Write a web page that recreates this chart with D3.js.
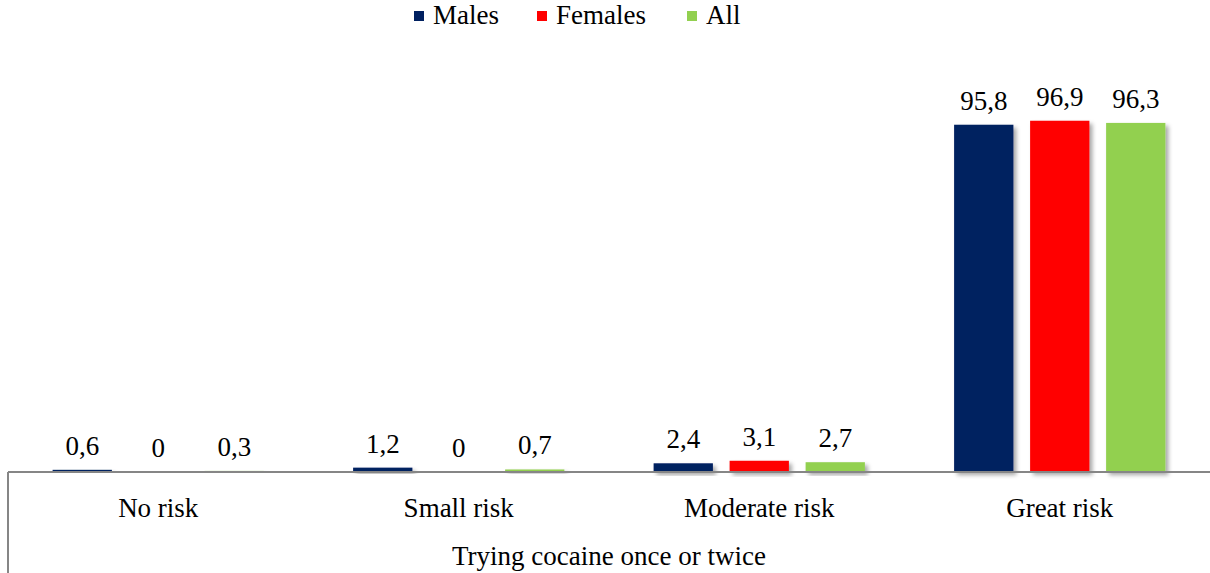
<!DOCTYPE html>
<html>
<head>
<meta charset="utf-8">
<script src="https://cdn.jsdelivr.net/npm/d3@7"></script>
<style>
  html, body { margin: 0; padding: 0; background: #fff; }
  svg { display: block; }
  text { font-family: "Liberation Serif", "DejaVu Serif", serif; fill: #000; }
</style>
</head>
<body>
<svg id="chart" width="1210" height="573"></svg>
<script>
// Perceived risk of trying cocaine once or twice (%)
const categories = ["No risk", "Small risk", "Moderate risk", "Great risk"];
const series = ["Males", "Females", "All"];
const males   = [0.6, 1.2, 2.4, 95.8];
const females = [0, 0, 3.1, 96.9];
const all     = [0.3, 0.7, 2.7, 96.3];
const axisTitle = "Trying cocaine once or twice";

const colors = { Males: "#002060", Females: "#FF0000", All: "#92D050" };
const valuesBySeries = { Males: males, Females: females, All: all };

const W = 1210, H = 573;
const left = 8, right = 1210, baseY = 472;
const FS = 27;

const svg = d3.select("#chart");

// soft drop shadow under each bar
const defs = svg.append("defs");
const f = defs.append("filter").attr("id", "shadow")
  .attr("x", "-20%").attr("y", "-20%").attr("width", "140%").attr("height", "160%");
f.append("feDropShadow").attr("dx", 3).attr("dy", 3).attr("stdDeviation", 2)
  .attr("flood-color", "#000").attr("flood-opacity", 0.35);

const x0 = d3.scaleBand().domain(categories).range([left, right]);
const groupW = 228;
const x1 = d3.scaleBand().domain(series).range([0, groupW])
  .paddingInner(0.22).paddingOuter(0.11);
const y = d3.scaleLinear().domain([0, 100]).range([baseY, baseY - 362.5]);

const fmt = v => String(v).replace(".", ",");

const data = [];
categories.forEach((c, i) => {
  series.forEach(s => data.push({ cat: c, s, v: valuesBySeries[s][i] }));
});
const bx = d => x0(d.cat) + x0.bandwidth() / 2 - groupW / 2 + x1(d.s);

// bars
svg.append("g").selectAll("rect").data(data).join("rect")
  .attr("x", bx)
  .attr("y", d => y(d.v))
  .attr("width", x1.bandwidth())
  .attr("height", d => baseY - y(d.v))
  .attr("fill", d => colors[d.s])
  .attr("filter", "url(#shadow)");

// value labels
svg.append("g").selectAll("text").data(data).join("text")
  .attr("x", d => bx(d) + x1.bandwidth() / 2)
  .attr("y", d => y(d.v) - 15)
  .attr("text-anchor", "middle")
  .attr("font-size", FS)
  .text(d => fmt(d.v));

// category axis
svg.append("line").attr("x1", left).attr("x2", right)
  .attr("y1", baseY).attr("y2", baseY)
  .attr("stroke", "#868686").attr("stroke-width", 2);
svg.append("line").attr("x1", left).attr("x2", left)
  .attr("y1", baseY).attr("y2", H)
  .attr("stroke", "#868686").attr("stroke-width", 2);

svg.append("g").selectAll("text").data(categories).join("text")
  .attr("x", d => x0(d) + x0.bandwidth() / 2)
  .attr("y", 517)
  .attr("text-anchor", "middle")
  .attr("font-size", FS)
  .text(d => d);

svg.append("text")
  .attr("x", (left + right) / 2)
  .attr("y", 565)
  .attr("text-anchor", "middle")
  .attr("font-size", FS)
  .text(axisTitle);

// legend
const legendX = [414, 537, 687];
const lg = svg.append("g").selectAll("g").data(series).join("g")
  .attr("transform", (d, i) => `translate(${legendX[i]},0)`);
lg.append("rect").attr("x", 0).attr("y", 11).attr("width", 10).attr("height", 10)
  .attr("fill", d => colors[d]);
lg.append("text").attr("x", 19).attr("y", 24).attr("font-size", FS).text(d => d);
</script>
</body>
</html>
